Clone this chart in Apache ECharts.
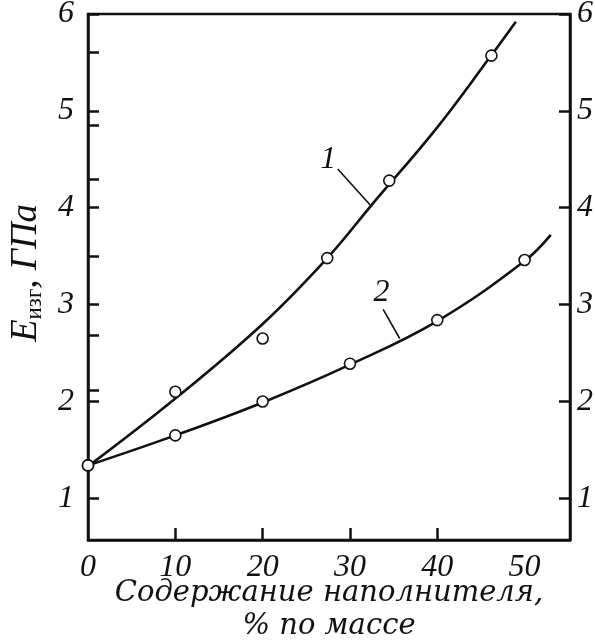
<!DOCTYPE html>
<html>
<head>
<meta charset="utf-8">
<script src="https://cdn.jsdelivr.net/npm/echarts@6/dist/echarts.min.js"></script>
<style>
  html, body { margin: 0; padding: 0; background: #fff; }
  #chart { width: 595px; height: 644px; }
</style>
</head>
<body>
<div id="chart"></div>
<script>
// tick labels
const xLabels = [0, 10, 20, 30, 40, 50]
const xTicks = [10, 20, 30, 40]
const yLabels = [1, 2, 3, 4, 5, 6]
const yLeftTicks = [1, 2, 2.12, 2.68, 3, 3.5, 4, 4.29, 4.85, 5, 5.6, 6]

// fitted curves
const curve1 = [[0, 1.33], [10, 2.03], [20, 2.8], [27.4, 3.48], [32.5, 4.03], [40, 4.83], [46, 5.55], [49, 5.92]]
const curve2 = [[0, 1.34], [10, 1.65], [20, 1.99], [30, 2.38], [40, 2.83], [50, 3.45], [53, 3.72]]

// measured points (open circles)
const points1 = [[0, 1.34], [10, 2.1], [20, 2.65], [27.4, 3.48], [34.5, 4.28], [46.2, 5.57]]
const points2 = [[0, 1.34], [10, 1.65], [20, 2.0], [30, 2.39], [40, 2.84], [50, 3.46]]

// curve labels with leader lines
const label1 = { text: '1', at: [27.5, 4.5], from: [28.6, 4.4], to: [32.5, 4.01] }
const label2 = { text: '2', at: [33.6, 3.12], from: [33.8, 2.95], to: [35.7, 2.65] }

const serif = 'Liberation Serif'
const black = '#111'

function leader(lab) {
    return {
        silent: true,
        symbol: 'none',
        lineStyle: { color: black, width: 1.6, type: 'solid' },
        label: { show: false },
        data: [[{ coord: lab.from }, { coord: lab.to }]]
    }
}

function tag(lab) {
    return {
        silent: true,
        symbol: 'circle',
        symbolSize: 0,
        label: {
            show: true,
            position: 'inside',
            formatter: lab.text,
            fontFamily: serif,
            fontStyle: 'italic',
            fontSize: 32,
            color: black
        },
        data: [{ coord: lab.at }]
    }
}

function dots(data) {
    return {
        type: 'scatter',
        data: data,
        symbol: 'circle',
        symbolSize: 11,
        itemStyle: { color: '#fff', borderColor: black, borderWidth: 1.6, opacity: 1 },
        z: 5
    }
}

var myChart = echarts.init(document.getElementById('chart'))
const option = {
    backgroundColor: '#fff',
    animation: false,
    grid: {
        left: 88,
        right: 25,
        top: 14,
        bottom: 104,
        outerBoundsMode: 'none',
        show: true,
        borderColor: black,
        borderWidth: 2.5
    },
    xAxis: {
        type: 'value',
        min: 0,
        max: 55.2,
        splitLine: { show: false },
        axisLine: { lineStyle: { color: black, width: 2.5 } },
        axisTick: {
            inside: true,
            length: 12,
            customValues: xTicks,
            lineStyle: { color: black, width: 2.5 }
        },
        axisLabel: {
            customValues: xLabels,
            margin: 12,
            fontFamily: serif,
            fontStyle: 'italic',
            fontSize: 32,
            color: black
        },
        name: 'Содержание наполнителя,\n% по массе',
        nameLocation: 'middle',
        nameGap: 37,
        nameMoveOverlap: false,
        nameTextStyle: {
            fontFamily: 'DejaVu Serif',
            fontStyle: 'italic',
            fontSize: 29,
            lineHeight: 33,
            color: black,
            verticalAlign: 'top'
        }
    },
    yAxis: [
        {
            type: 'value',
            position: 'left',
            min: 0.57,
            max: 6,
            splitLine: { show: false },
            axisLine: { show: true, lineStyle: { color: black, width: 2.5 } },
            axisTick: {
                inside: true,
                length: 11,
                customValues: yLeftTicks,
                lineStyle: { color: black, width: 2.5 }
            },
            axisLabel: {
                customValues: yLabels,
                margin: 14,
                padding: [10, 0, 0, 0],
                fontFamily: serif,
                fontStyle: 'italic',
                fontSize: 32,
                color: black
            },
            name: '{e|E}{s|изг}{n|, ГПа}',
            nameLocation: 'middle',
            nameRotate: 90,
            nameGap: 42,
            nameMoveOverlap: false,
            nameTextStyle: {
                padding: [0, 0, 0, 8],
                rich: {
                    e: { fontFamily: serif, fontStyle: 'italic', fontSize: 37, color: black },
                    s: { fontFamily: serif, fontSize: 23, color: black, verticalAlign: 'bottom', padding: [16, 0, 0, 0] },
                    n: { fontFamily: serif, fontStyle: 'italic', fontSize: 37, color: black }
                }
            }
        },
        {
            type: 'value',
            position: 'right',
            min: 0.57,
            max: 6,
            splitLine: { show: false },
            axisLine: { show: true, lineStyle: { color: black, width: 2.5 } },
            axisTick: {
                inside: true,
                length: 11,
                customValues: yLabels,
                lineStyle: { color: black, width: 2.5 }
            },
            axisLabel: {
                customValues: yLabels,
                margin: 7,
                padding: [10, 0, 0, 0],
                fontFamily: serif,
                fontStyle: 'italic',
                fontSize: 32,
                color: black
            }
        }
    ],
    series: [
        {
            name: '1',
            type: 'line',
            data: curve1,
            smooth: 0.4,
            showSymbol: false,
            lineStyle: { color: black, width: 2.6 },
            markLine: leader(label1),
            markPoint: tag(label1),
            z: 2
        },
        {
            name: '2',
            type: 'line',
            data: curve2,
            smooth: 0.4,
            showSymbol: false,
            lineStyle: { color: black, width: 2.6 },
            markLine: leader(label2),
            markPoint: tag(label2),
            z: 2
        },
        Object.assign({ name: 'points 1' }, dots(points1)),
        Object.assign({ name: 'points 2' }, dots(points2))
    ]
}
myChart.setOption(option)
</script>
</body>
</html>
